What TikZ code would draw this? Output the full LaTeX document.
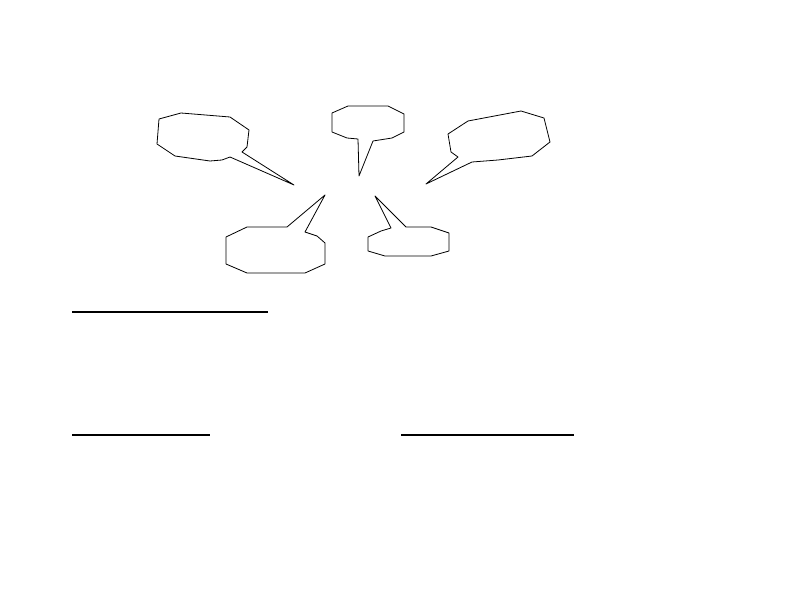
\documentclass[tikz,border=0pt]{standalone}
\begin{document}
\begin{tikzpicture}[x=1bp,y=-1bp,line join=round]
    \useasboundingbox (0,0) rectangle (792,612);
    \tikzset{bubble/.style={draw=black,line width=.8bp},
             rule/.style={draw=black,line width=2.6bp}}

    % speech bubbles
    \draw [bubble] (159,119) -- (181,113) -- (230,117) -- (249,130) -- (247,147) -- (242,152)
        -- (294,185) -- (230,157) -- (222,160) -- (210,161) -- (175,156) -- (157,144) -- cycle;
    \draw [bubble] (332,113) -- (348,106) -- (388,106) -- (404,114) -- (404,132) -- (392,138)
        -- (373,141) -- (359,176) -- (358,139) -- (347,138) -- (332,132) -- cycle;
    \draw [bubble] (468,121) -- (521,111) -- (544,118) -- (550,142) -- (532,156) -- (498,160)
        -- (472,162) -- (426,184) -- (458,157) -- (451,152) -- (448,134) -- cycle;
    \draw [bubble] (325,195) -- (287,227) -- (247,227) -- (226,237) -- (226,264) -- (247,273)
        -- (305,273) -- (325,264) -- (325,243) -- (317,236) -- (305,232) -- cycle;
    \draw [bubble] (375,196) -- (406,227) -- (431,227) -- (449,233) -- (449,251) -- (431,256)
        -- (385,256) -- (368,251) -- (368,237) -- (381,231) -- (391,228) -- cycle;

    % blank lines
    \foreach \a/\b/\y in {72/268/312, 72/210/435, 401/574/435}
        {\draw [rule] (\a,\y) -- (\b,\y);}
\end{tikzpicture}
\end{document}
